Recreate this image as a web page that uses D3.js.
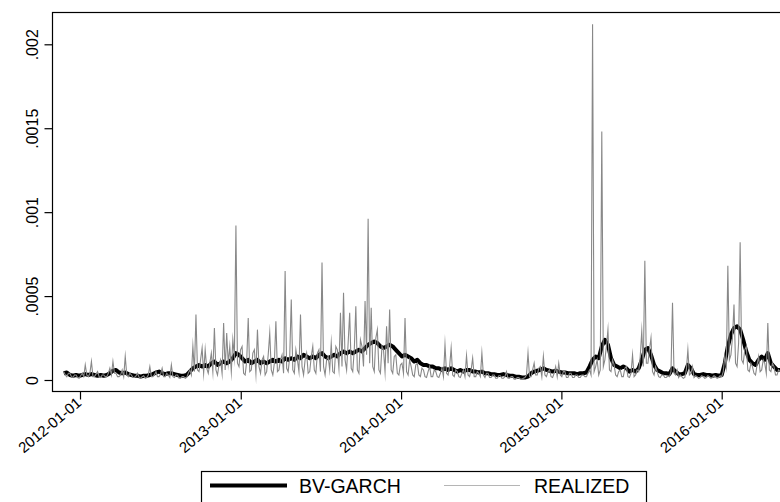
<!DOCTYPE html>
<html>
<head>
<meta charset="utf-8">
<script src="https://cdn.jsdelivr.net/npm/d3@7"></script>
<style>
  html, body { margin: 0; padding: 0; background: #fff; }
  svg { display: block; }
  text { font-family: "Liberation Sans", Arial, Helvetica, sans-serif; fill: #000; }
</style>
</head>
<body>
<svg id="chart" width="780" height="502"></svg>
<script>
// ---- DATA (values in units of 1e-5) ----
const startDate = "2011-11-25";     // first observation
const garchStepDays = 7;            // BV-GARCH read weekly
const realizedStepDays = 3.5;       // REALIZED read twice a week
const bvGarchE5 = [
  4,4.5,3,2.5,3,2.5,3,3.5,3,3.5,
  3,2.5,3,2.5,3,4,5.5,6,4.5,4,
  4.5,3.5,3,2.5,2.5,2,2.5,2.5,3,3.5,
  4.5,5,4,3.5,4,4,3.5,3,2.5,2.5,
  3,5,7,8,9,8,9,8,10,11,
  9,10,11,10,11,13,16,15,13,11,
  12,10,11,12,10,11,10,11,12,11,
  12,11,13,12,13,12,14,13,15,14,
  13,14,13,15,16,14,13,14,15,14,
  16,17,16,17,16,17,18,17,19,21,
  22,23,22,20,19,20,21,20,18,16,
  14,15,14,13,11,12,10,9,9,8,
  8,7,7,6,7,6,7,6,5,6,
  5,6,6,5,5,4.5,5,4,4,3.5,
  3.5,3,3,3.5,3,2.5,2.5,2,2,1.5,
  1.5,2,4,5,5.5,6,7,6,5.5,5,
  5.5,5,4.5,4.5,4,4,4,3.5,4,4,
  4.5,8,12,14,13,20,24,21,13,9,
  8,7,8,7,5,6,5,7,12,18,
  19,15,9,6,5,4,4,3.5,7,5,
  3.5,3.5,4,9,7,3.5,3,3,3.5,3,
  3,2.5,3,2.5,3,10,20,27,31,32,
  30,24,17,12,10,9,12,14,12,16,
  10,8,6,6
];
const realizedE5 = [
  5,3, 2,4, 4,2, 1.5,3, 3,1.5, 1,2.5, 4,2, 9,3, 2,4, 11,2,
  2,3.5, 5,2, 1.5,3, 3,2, 2,4, 7,3, 11,4, 4,2, 2,3, 6,2,
  14,3, 2,4, 3,1.5, 1.5,2.5, 4,1.5, 1,2, 2.5,1, 1.5,3, 8,2, 2,3,
  5,2, 2,3.5, 7,2, 2,4, 3,1.5, 9,2, 1.5,3, 3,1, 1,2, 2,1,
  1.5,4, 6,3, 20,5, 39,6, 5,12, 19,4, 18,7, 4,10, 16,5, 31,6,
  3,9, 12,4, 34,6, 28,10, 20,5, 24,14, 92,10, 8,18, 20,4, 3,11,
  37,5, 6,16, 18,4, 30,8, 4,12, 14,3, 5,15, 28,6, 3,10, 35,5,
  6,12, 15,4, 65,7, 5,14, 48,6, 4,18, 12,5, 39,8, 3,12, 16,4,
  5,14, 20,6, 4,16, 18,5, 70,8, 3,12, 14,6, 22,5, 4,20, 18,7,
  40,8, 52,12, 6,22, 40,7, 5,18, 44,6, 4,24, 20,8, 47,15, 96,10,
  43,8, 5,25, 30,6, 4,20, 18,5, 32,10, 42,6, 4,14, 15,4, 3,9,
  10,4, 37,5, 3,12, 8,3, 2,9, 10,3, 2,7, 6,2, 1.5,5, 8,2,
  2,6, 5,2, 1.5,4, 7,2, 21,4, 3,8, 19,3, 2,6, 5,2, 1.5,4,
  6,2, 14.5,3, 2,6, 13,2, 2,5, 4,2, 16,3, 1.5,4, 4,1.5, 1.5,3,
  3,1, 1,2.5, 2.5,1, 1,2, 5,1, 1,2, 2,0.5, 0.5,1.5, 1.5,0.5, 0.5,1,
  1.5,3, 16,2, 2,6, 10,3, 3,7, 8,2, 14,3, 2,5, 6,2, 1.5,4,
  8,2, 10,3, 2,5, 5,1.5, 1.5,4, 4,1.5, 1.5,3, 3,1.5, 1.5,3, 3,2,
  2,4, 6,3, 212,5, 8,12, 3,6, 148,8, 12,20, 30,6, 5,12, 9,3,
  2,5, 6,2, 2,7, 8,2, 1.5,4, 15,2, 3,6, 5,14, 29,8, 71,10,
  10,18, 25,5, 3,8, 5,2, 1.5,3, 3,1.5, 1.5,2.5, 2,5, 46,4, 3,6,
  1.5,3, 2,1, 1.5,6, 18,3, 4,8, 1.5,2.5, 2,1, 1.5,2.5, 2,1, 1.5,2.5,
  2,1, 1.5,2.5, 2,1, 1.5,2.5, 2,5, 14,8, 68,12, 15,25, 45,10, 8,22,
  82,12, 10,18, 20,6, 5,10, 8,4, 3,9, 14,5, 6,12, 10,4, 34,6,
  5,10, 8,3, 3,6, 5,4
];
const yTickValues = [0, 0.0005, 0.001, 0.0015, 0.002];
const yTickLabels = ["0", ".0005", ".001", ".0015", ".002"];
const xTickDates = ["2012-01-01", "2013-01-01", "2014-01-01", "2015-01-01", "2016-01-01"];
const seriesNames = ["BV-GARCH", "REALIZED"];

// ---- BUILD ----
const parse = d3.utcParse("%Y-%m-%d");
const t0 = parse(startDate);
const dayMs = 864e5;
const garchRows = bvGarchE5.map((v, i) => ({
  date: new Date(+t0 + i * garchStepDays * dayMs), value: v * 1e-5 }));
const realizedRows = realizedE5.map((v, i) => ({
  date: new Date(+t0 + i * realizedStepDays * dayMs), value: v * 1e-5 }));

const svg = d3.select("#chart");
const W = 780, H = 502;
const plot = { left: 52.5, top: 12.5, right: 800, bottom: 391.5 };

const x = d3.scaleUtc()
  .domain([parse("2012-01-01"), parse("2016-01-01")])
  .range([80, 721.7]);
const y = d3.scaleLinear()
  .domain([0, 0.002])
  .range([380, 44.3]);

svg.append("rect").attr("width", W).attr("height", H).attr("fill", "#fff");

svg.append("clipPath").attr("id", "clip")
  .append("rect")
  .attr("x", plot.left).attr("y", plot.top)
  .attr("width", plot.right - plot.left).attr("height", plot.bottom - plot.top);

const line = d3.line().x(d => x(d.date)).y(d => y(d.value));

const g = svg.append("g").attr("clip-path", "url(#clip)");
g.append("path").datum(garchRows).attr("d", line)
  .attr("fill", "none").attr("stroke", "#000").attr("stroke-width", 4)
  .attr("stroke-linejoin", "round");
g.append("path").datum(realizedRows).attr("d", line)
  .attr("fill", "none").attr("stroke", "#888").attr("stroke-width", 1.1)
  .attr("stroke-linejoin", "miter").attr("stroke-miterlimit", 20);

// frame
svg.append("rect")
  .attr("x", plot.left).attr("y", plot.top)
  .attr("width", plot.right - plot.left).attr("height", plot.bottom - plot.top)
  .attr("fill", "none").attr("stroke", "#000").attr("stroke-width", 1.2);

// Y axis
const yAxis = d3.axisLeft(y)
  .tickValues(yTickValues)
  .tickFormat((d, i) => yTickLabels[i])
  .tickSize(8).tickPadding(4);
const ya = svg.append("g").attr("transform", `translate(${plot.left},0)`).call(yAxis);
ya.select(".domain").remove();
ya.selectAll(".tick line").attr("stroke", "#000").attr("stroke-width", 1.2);
ya.selectAll(".tick text")
  .attr("font-size", 16)
  .attr("text-anchor", "middle")
  .attr("x", null).attr("dy", null)
  .attr("transform", "translate(-15,0) rotate(-90)")
  .attr("y", 0);

// X axis
const xAxis = d3.axisBottom(x)
  .tickValues(xTickDates.map(parse))
  .tickFormat((d, i) => xTickDates[i])
  .tickSize(8).tickPadding(3);
const xa = svg.append("g").attr("transform", `translate(0,${plot.bottom})`).call(xAxis);
xa.select(".domain").remove();
xa.selectAll(".tick line").attr("stroke", "#000").attr("stroke-width", 1.2);
xa.selectAll(".tick text")
  .attr("font-size", 15)
  .attr("text-anchor", "end")
  .attr("y", 0).attr("dy", null)
  .attr("transform", "translate(2,13) rotate(-40)");

// Legend
const leg = svg.append("g");
leg.append("rect").attr("x", 201.5).attr("y", 471.5).attr("width", 445).attr("height", 50)
  .attr("fill", "#fff").attr("stroke", "#000").attr("stroke-width", 1.2);
leg.append("line").attr("x1", 210).attr("x2", 287).attr("y1", 485.5).attr("y2", 485.5)
  .attr("stroke", "#000").attr("stroke-width", 4);
leg.append("text").attr("x", 299).attr("y", 493).attr("font-size", 19.5).text(seriesNames[0]);
leg.append("line").attr("x1", 444).attr("x2", 520).attr("y1", 485.5).attr("y2", 485.5)
  .attr("stroke", "#b5b5b5").attr("stroke-width", 1.2);
leg.append("text").attr("x", 534).attr("y", 493).attr("font-size", 19.5).text(seriesNames[1]);
</script>
</body>
</html>
